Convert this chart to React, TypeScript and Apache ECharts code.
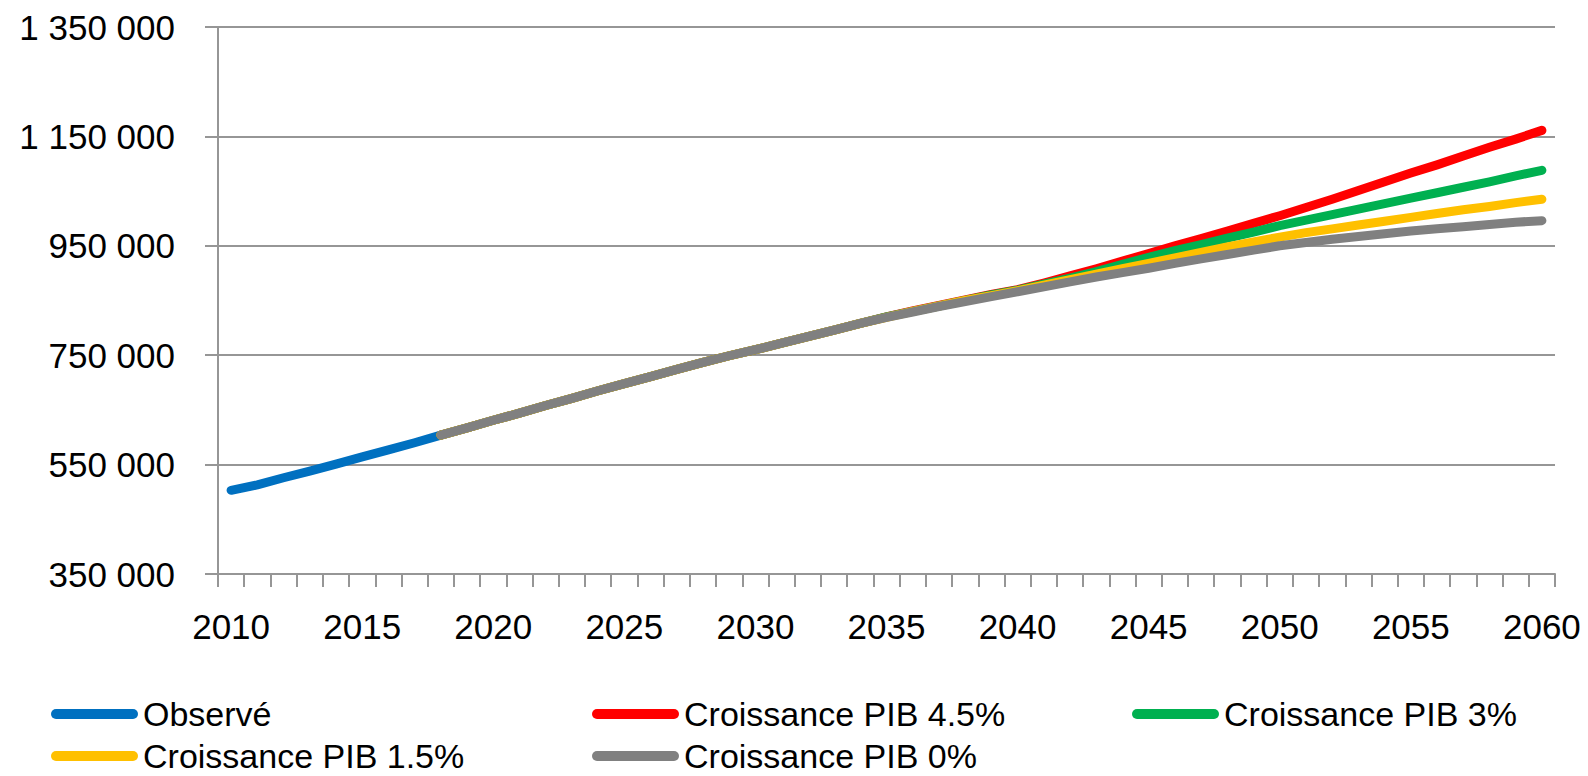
import React, { useEffect, useRef } from "react";
import * as echarts from "echarts";

const years: string[] = [];
for (let y = 2010; y <= 2060; y++) years.push(String(y));

const yTicks = [350000, 550000, 750000, 950000, 1150000, 1350000];

// Observé 2010-2018
const observe = [503000, 513000, 526000, 538000, 551000, 564000, 577000, 590000, 604000];

// Projections 2018-2060
const pib45 = [
  604000, 617000, 631000, 644000, 658000, 671000, 685000, 698000, 711000, 724000,
  737000, 749000, 760000, 772000, 784000, 796000, 808000, 820000, 831000, 841000,
  851000, 861000, 870000, 882000, 895000, 908000, 922000, 936000, 950000, 963000,
  977000, 991000, 1005000, 1020000, 1035000, 1051000, 1067000, 1083000, 1098000, 1114000,
  1130000, 1145000, 1161000,
];
const pib3 = [
  604000, 617000, 631000, 644000, 658000, 671000, 685000, 698000, 711000, 724000,
  737000, 749000, 760000, 772000, 784000, 796000, 808000, 820000, 830000, 840000,
  850000, 860000, 869000, 880000, 891000, 903000, 916000, 929000, 941000, 952000,
  964000, 975000, 987000, 997000, 1007000, 1017000, 1027000, 1037000, 1047000, 1057000,
  1067000, 1078000, 1088000,
];
const pib15 = [
  604000, 617000, 631000, 644000, 658000, 671000, 685000, 698000, 711000, 724000,
  737000, 749000, 760000, 772000, 784000, 796000, 808000, 819000, 830000, 840000,
  850000, 859000, 868000, 878000, 888000, 898000, 908000, 918000, 928000, 938000,
  948000, 957000, 966000, 974000, 981000, 988000, 995000, 1002000, 1009000, 1016000,
  1022000, 1029000, 1035000,
];
const pib0 = [
  604000, 617000, 631000, 644000, 658000, 671000, 685000, 698000, 711000, 724000,
  737000, 749000, 760000, 772000, 784000, 796000, 808000, 819000, 829000, 839000,
  848000, 857000, 866000, 875000, 884000, 893000, 901000, 909000, 918000, 926000,
  934000, 942000, 950000, 956000, 962000, 967000, 972000, 977000, 981000, 985000,
  989000, 993000, 996000,
];

const names = ["Observé", "Croissance PIB 4.5%", "Croissance PIB 3%", "Croissance PIB 1.5%", "Croissance PIB 0%"];
const colors = ["#0070C0", "#FF0000", "#00B050", "#FFC000", "#808080"];

const FONT = "'Liberation Sans', Arial, sans-serif";
const GRAY = "#969696";

function fmt(v: number): string {
  return String(v).replace(/\B(?=(\d{3})+(?!\d))/g, " ");
}

function pad(arr: number[], startIdx: number): (number | null)[] {
  const out: (number | null)[] = [];
  for (let i = 0; i < years.length; i++) {
    const j = i - startIdx;
    out.push(j >= 0 && j < arr.length ? arr[j] : null);
  }
  return out;
}

export default function App() {
  const ref = useRef<HTMLDivElement>(null);
  useEffect(() => {
    if (!ref.current) return;
    const chart = echarts.init(ref.current, undefined, { renderer: "svg" });
    const start = years.indexOf("2018");
    const seriesData = [pad(observe, 0), pad(pib45, start), pad(pib3, start), pad(pib15, start), pad(pib0, start)];
    const pill = "path://M5 0H82A5 5 0 0 1 82 10H5A5 5 0 0 1 5 0Z";
    const legendPos = [
      { left: 51, top: 697 },
      { left: 592, top: 697 },
      { left: 1132, top: 697 },
      { left: 51, top: 739 },
      { left: 592, top: 739 },
    ];
    chart.setOption({
      animation: false,
      textStyle: { fontFamily: FONT },
      grid: { left: 218, right: 33, top: 27, bottom: 202, containLabel: false },
      legend: names.map((n, i) => ({
        data: [n],
        left: legendPos[i].left,
        top: legendPos[i].top,
        padding: 0,
        itemWidth: 87,
        itemHeight: 10,
        itemGap: 0,
        icon: pill,
        selectedMode: false,
        textStyle: { fontSize: 34, lineHeight: 30, color: "#000", fontFamily: FONT },
      })),
      xAxis: {
        type: "category",
        data: years,
        boundaryGap: true,
        axisLine: { lineStyle: { color: GRAY, width: 2 } },
        axisTick: { show: true, interval: 0, length: 13, alignWithLabel: false, lineStyle: { color: GRAY, width: 2 } },
        axisLabel: { interval: 4, margin: 35, fontSize: 35, color: "#000", fontFamily: FONT },
        splitLine: { show: false },
      },
      yAxis: {
        type: "value",
        min: 350000,
        max: 1350000,
        interval: 50000,
        axisLine: { show: true, lineStyle: { color: GRAY, width: 2 } },
        axisTick: { show: true, length: 13, customValues: yTicks, lineStyle: { color: GRAY, width: 2 } },
        axisLabel: {
          customValues: yTicks,
          margin: 43,
          fontSize: 35,
          color: "#000",
          fontFamily: FONT,
          formatter: (v: number) => fmt(v),
        },
        splitLine: { show: true, lineStyle: { color: GRAY, width: 2 } },
      },
      series: names.map((n, i) => ({
        name: n,
        type: "line",
        data: seriesData[i],
        showSymbol: false,
        symbol: "none",
        connectNulls: false,
        lineStyle: { color: colors[i], width: 9, cap: "round", join: "round" },
        itemStyle: { color: colors[i] },
        emphasis: { disabled: true },
        z: 2 + i,
      })),
    });
    return () => chart.dispose();
  }, []);
  return <div ref={ref} style={{ position: "absolute", left: 0, top: 0, width: 1588, height: 776 }} />;
}
